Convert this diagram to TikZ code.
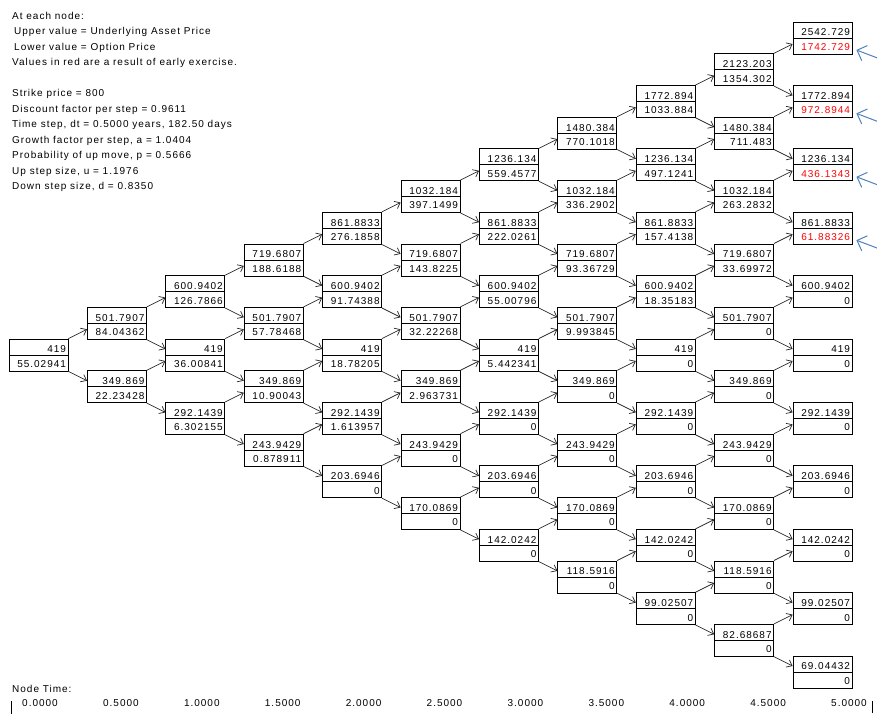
\documentclass[tikz,border=0pt]{standalone}
\usepackage{fontspec}
\setmainfont{Liberation Sans}[LetterSpace=10]
\usetikzlibrary{arrows.meta}
\definecolor{notecol}{RGB}{79,129,189}

\begin{document}
\begin{tikzpicture}[x=1pt,y=-1pt,font=\fontsize{10}{15.5}\selectfont,
    cell/.style={draw,line width=0.8pt,minimum width=59pt,minimum height=32pt,
      inner sep=0pt,text width=55pt,align=right,font=\fontsize{10}{14.5}\selectfont,
      path picture={\draw[line width=0.8pt] (path picture bounding box.west)
        -- (path picture bounding box.east);}},
    arr/.style={-{Straight Barb[length=5pt,width=8pt]},line width=0.7pt,draw=black!85},
    note/.style={-{Straight Barb[length=8pt,width=16pt]},line width=1pt,draw=notecol}]
  \useasboundingbox (0,0) rectangle (877,714);

  % legend and inputs, top left
  \node[anchor=north west,align=left,inner sep=0pt] (info) at (12,12) {%
    At each node:\\
    \hspace*{2pt}Upper value = Underlying Asset Price\\
    \hspace*{2pt}Lower value = Option Price\\
    Values in red are a result of early exercise.\\[15.5pt]
    Strike price = 800\\
    Discount factor per step = 0.9611\\
    Time step, dt = 0.5000 years, 182.50 days\\
    Growth factor per step, a = 1.0404\\
    Probability of up move, p = 0.5666\\
    Up step size, u = 1.1976\\
    Down step size, d = 0.8350};

  % tree: step i, number of up moves k, asset price, option price
  \foreach \i/\k/\pv/\ov in {
      0/0/419/55.02941,
      1/1/501.7907/84.04362, 1/0/349.869/22.23428,
      2/2/600.9402/126.7866, 2/1/419/36.00841, 2/0/292.1439/6.302155,
      3/3/719.6807/188.6188, 3/2/501.7907/57.78468, 3/1/349.869/10.90043,
      3/0/243.9429/0.878911,
      4/4/861.8833/276.1858, 4/3/600.9402/91.74388, 4/2/419/18.78205,
      4/1/292.1439/1.613957, 4/0/203.6946/0,
      5/5/1032.184/397.1499, 5/4/719.6807/143.8225, 5/3/501.7907/32.22268,
      5/2/349.869/2.963731, 5/1/243.9429/0, 5/0/170.0869/0,
      6/6/1236.134/559.4577, 6/5/861.8833/222.0261, 6/4/600.9402/55.00796,
      6/3/419/5.442341, 6/2/292.1439/0, 6/1/203.6946/0, 6/0/142.0242/0,
      7/7/1480.384/770.1018, 7/6/1032.184/336.2902, 7/5/719.6807/93.36729,
      7/4/501.7907/9.993845, 7/3/349.869/0, 7/2/243.9429/0, 7/1/170.0869/0,
      7/0/118.5916/0,
      8/8/1772.894/1033.884, 8/7/1236.134/497.1241, 8/6/861.8833/157.4138,
      8/5/600.9402/18.35183, 8/4/419/0, 8/3/292.1439/0, 8/2/203.6946/0,
      8/1/142.0242/0, 8/0/99.02507/0,
      9/9/2123.203/1354.302, 9/8/1480.384/711.483, 9/7/1032.184/263.2832,
      9/6/719.6807/33.69972, 9/5/501.7907/0, 9/4/349.869/0, 9/3/243.9429/0,
      9/2/170.0869/0, 9/1/118.5916/0, 9/0/82.68687/0,
      10/10/2542.729/{\color{red}1742.729}, 10/9/1772.894/{\color{red}972.8944},
      10/8/1236.134/{\color{red}436.1343}, 10/7/861.8833/{\color{red}61.88326},
      10/6/600.9402/0, 10/5/419/0, 10/4/292.1439/0, 10/3/203.6946/0,
      10/2/142.0242/0, 10/1/99.02507/0, 10/0/69.04432/0}
    \node[cell] (n-\i-\k) at ({38.5+78.4*\i},{355-31.7*(2*\k-\i)})
      {\rule{0pt}{10.5pt}\pv\\\ov};

  % up and down moves
  \foreach \i in {0,...,9} {
    \pgfmathtruncatemacro\ni{\i+1}
    \foreach \k in {0,...,\i} {
      \pgfmathtruncatemacro\nk{\k+1}
      \draw[arr] (n-\i-\k.north east) -- ([yshift=-6pt]n-\ni-\nk.west);
      \draw[arr] (n-\i-\k.south east) -- ([yshift=6pt]n-\ni-\k.west);
    }
  }

  % pointers to the early exercise values
  \foreach \k in {10,9,8,7} {
    \coordinate (p-\k) at (888,{355-31.7*(2*\k-10)+24});
    \draw[note] (p-\k) -- ([shift={(4pt,-12pt)}]n-10-\k.east);
  }

  % time axis
  \node[anchor=west,inner sep=0pt] (nt) at (12,689) {Node Time:};
  \foreach \t [count=\c from 0] in {0.0000,0.5000,1.0000,1.5000,2.0000,2.5000,
      3.0000,3.5000,4.0000,4.5000,5.0000}
    \node[inner sep=0pt] (t-\c) at ({40+80.9*\c},703) {\t};
  \draw[line width=0.8pt] (11,701) -- (11,714);
  \draw[line width=0.8pt] (872,701) -- (872,713);
\end{tikzpicture}
\end{document}
